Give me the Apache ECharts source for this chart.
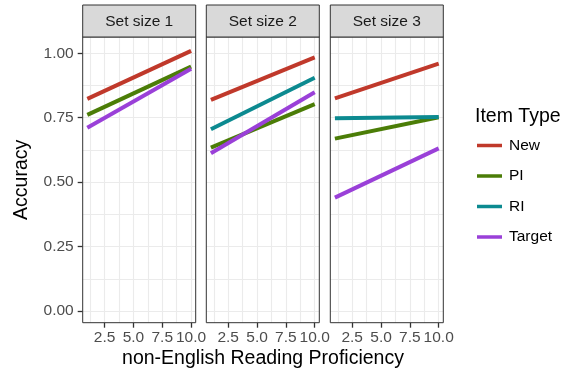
<!DOCTYPE html>
<html>
<head>
<meta charset="utf-8">
<script src="https://cdn.jsdelivr.net/npm/echarts@6/dist/echarts.min.js"></script>
<style>html,body{margin:0;padding:0;background:#fff}#c{width:570px;height:370px}</style>
</head>
<body>
<div id="c"></div>
<script>
// ---- data ----
const panels = ['Set size 1', 'Set size 2', 'Set size 3'];
const itemTypes = ['New', 'PI', 'RI', 'Target'];
const xEnds = [1, 10];
const newAcc    = [[0.823, 1.009], [0.819, 0.984], [0.825, 0.960]];
const piAcc     = [[0.761, 0.948], [0.634, 0.803], [0.669, 0.752]];
const riAcc     = [null,           [0.705, 0.905], [0.748, 0.753]];
const targetAcc = [[0.711, 0.940], [0.612, 0.849], [0.440, 0.631]];
const xTicks = [2.5, 5.0, 7.5, 10.0];
const xMinor = [1.25, 3.75, 6.25, 8.75];
const yTicks = [0, 0.25, 0.5, 0.75, 1.0];
const yMinor = [0.125, 0.375, 0.625, 0.875];
const xTitle = 'non-English Reading Proficiency';
const yTitle = 'Accuracy';
const legendTitle = 'Item Type';

// ---- styling / layout ----
const colors = {New: '#c0392b', PI: '#4b7d07', RI: '#0c8a90', Target: '#9a40d8'};
const seriesByType = {New: newAcc, PI: piAcc, RI: riAcc, Target: targetAcc};
const gridLefts = [82.7, 206.3, 330.3];
const gridW = 113;
const gridTop = 37;
const gridBottomY = 322.7;
const gridH = gridBottomY - gridTop;
const xMin = 0.6, xMax = 10.4, yMin = -0.045, yMax = 1.063;
const smallFont = 15.5, bigFont = 19.5;
const fontFam = 'Liberation Sans, Arial, sans-serif';
const xGridVals = xMinor.concat(xTicks).sort((a, b) => a - b);
const yGridVals = yMinor.concat(yTicks).sort((a, b) => a - b);

const grids = [], xAxes = [], yAxes = [], series = [], graphics = [];

panels.forEach((p, i) => {
  grids.push({left: gridLefts[i], top: gridTop, width: gridW, height: gridH, show: false});
  // main x axis (bottom): outside ticks + labels
  xAxes.push({type: 'value', gridIndex: i, min: xMin, max: xMax, position: 'bottom',
    axisLine: {show: false, onZero: false}, splitLine: {show: false},
    axisTick: {show: true, inside: false, customValues: xTicks, length: 5, lineStyle: {color: '#333333', width: 1.3}},
    axisLabel: {show: true, customValues: xTicks, margin: 7, color: '#4d4d4d',
      fontSize: smallFont, fontFamily: fontFam, formatter: v => v.toFixed(1)}});
  // x gridlines (top axis, inside ticks spanning the panel)
  xAxes.push({type: 'value', gridIndex: i, min: xMin, max: xMax, position: 'top',
    axisLine: {show: false, onZero: false}, splitLine: {show: false}, axisLabel: {show: false},
    axisTick: {show: true, inside: true, customValues: xGridVals, length: gridH, lineStyle: {color: '#ebebeb', width: 1.1}}});
  // main y axis (left)
  yAxes.push({type: 'value', gridIndex: i, min: yMin, max: yMax, position: 'left',
    axisLine: {show: false, onZero: false}, splitLine: {show: false},
    axisTick: {show: i === 0, inside: false, customValues: yTicks, length: 5, lineStyle: {color: '#333333', width: 1.3}},
    axisLabel: {show: i === 0, customValues: yTicks, margin: 9, color: '#4d4d4d',
      fontSize: smallFont, fontFamily: fontFam, formatter: v => v.toFixed(2)}});
  // y gridlines (right axis, inside ticks spanning the panel)
  yAxes.push({type: 'value', gridIndex: i, min: yMin, max: yMax, position: 'right',
    axisLine: {show: false, onZero: false}, splitLine: {show: false}, axisLabel: {show: false},
    axisTick: {show: true, inside: true, customValues: yGridVals, length: gridW, lineStyle: {color: '#ebebeb', width: 1.1}}});

  itemTypes.forEach(t => {
    const vals = seriesByType[t][i];
    if (!vals) return;
    series.push({name: t, type: 'line', xAxisIndex: 2 * i, yAxisIndex: 2 * i,
      data: xEnds.map((x, k) => [x, vals[k]]), symbol: 'none', z: 5,
      lineStyle: {color: colors[t], width: 4, cap: 'butt'},
      itemStyle: {color: colors[t]}, emphasis: {disabled: true}, silent: true});
  });

  // panel border (drawn on top of gridlines)
  graphics.push({type: 'rect', z: 100, shape: {x: gridLefts[i], y: gridTop, width: gridW, height: gridH},
    style: {fill: null, stroke: '#333333', lineWidth: 1}, silent: true});
  // strip
  graphics.push({type: 'rect', z: 100, shape: {x: gridLefts[i], y: 5, width: gridW, height: gridTop - 5},
    style: {fill: '#d9d9d9', stroke: '#333333', lineWidth: 1}, silent: true});
  graphics.push({type: 'text', z: 101, x: gridLefts[i] + gridW / 2, y: (5 + gridTop) / 2 + 0.5,
    style: {text: p, fill: '#1a1a1a', font: smallFont + 'px ' + fontFam, textAlign: 'center', textVerticalAlign: 'middle'}, silent: true});
});

// axis titles & legend title
graphics.push({type: 'text', x: (gridLefts[0] + gridLefts[2] + gridW) / 2, y: 359,
  style: {text: xTitle, fill: '#000000', font: bigFont + 'px ' + fontFam, textAlign: 'center', textVerticalAlign: 'middle'}, silent: true});
graphics.push({type: 'text', x: 22, y: (gridTop + gridBottomY) / 2, rotation: Math.PI / 2,
  style: {text: yTitle, fill: '#000000', font: bigFont + 'px ' + fontFam, textAlign: 'center', textVerticalAlign: 'middle'}, silent: true});
graphics.push({type: 'text', x: 475, y: 117,
  style: {text: legendTitle, fill: '#000000', font: bigFont + 'px ' + fontFam, textAlign: 'left', textVerticalAlign: 'middle'}, silent: true});

const chart = echarts.init(document.getElementById('c'), null, {renderer: 'canvas'});
chart.setOption({
  animation: false,
  backgroundColor: '#ffffff',
  grid: grids,
  xAxis: xAxes,
  yAxis: yAxes,
  series: series,
  legend: {data: itemTypes, orient: 'vertical', left: 477, top: 137.5, padding: 0,
    icon: 'rect', itemWidth: 25, itemHeight: 3.5, itemGap: 14.5, selectedMode: false,
    textStyle: {fontSize: smallFont, fontFamily: fontFam, color: '#000000', lineHeight: 16, padding: [0, 0, 0, 2]}},
  graphic: graphics
});
</script>
</body>
</html>
